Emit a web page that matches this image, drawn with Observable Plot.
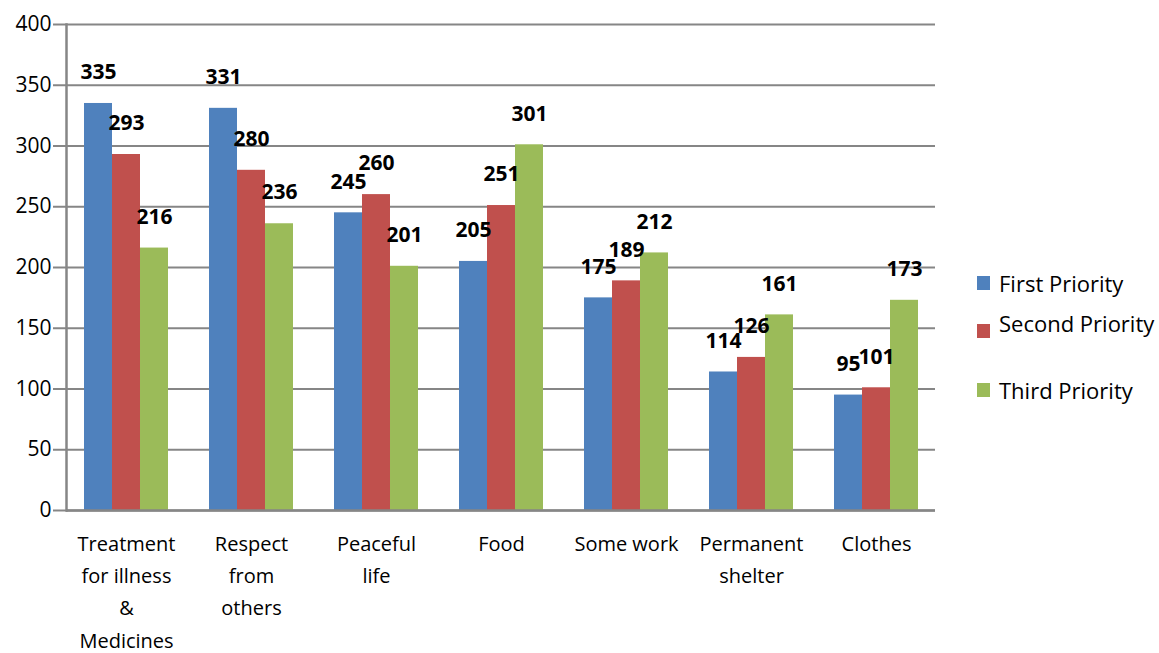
<!DOCTYPE html>
<html>
<head>
<meta charset="utf-8">
<script src="https://cdn.jsdelivr.net/npm/d3@7"></script>
<script src="https://cdn.jsdelivr.net/npm/@observablehq/plot@0.6"></script>
<style>
  html, body { margin: 0; padding: 0; background: #fff; }
  #wrap { position: relative; width: 1159px; height: 653px; font-family: "Open Sans", sans-serif; }
  #wrap svg { display: block; position: absolute; left: 0; top: 0; }
  .leg { position: absolute; left: 977px; display: flex; align-items: center; font-size: 22px; color: #000; white-space: nowrap; }
  .sw { width: 13px; height: 14px; margin-right: 9px; }
</style>
</head>
<body>
<div id="wrap">
  <div id="legend"></div>
</div>
<script>
const categories = [
  "Treatment\nfor illness\n&\nMedicines",
  "Respect\nfrom\nothers",
  "Peaceful\nlife",
  "Food",
  "Some work",
  "Permanent\nshelter",
  "Clothes"
];
const series = ["First Priority", "Second Priority", "Third Priority"];
const firstPriority  = [335, 331, 245, 205, 175, 114, 95];
const secondPriority = [293, 280, 260, 251, 189, 126, 101];
const thirdPriority  = [216, 236, 201, 301, 212, 161, 173];
const seriesColors = ["#4F81BD", "#C0504D", "#9BBB59"];
const yTicks = [0, 50, 100, 150, 200, 250, 300, 350, 400];

const valuesBySeries = [firstPriority, secondPriority, thirdPriority];
const data = categories.flatMap((c, i) =>
  series.map((s, j) => ({category: c, series: s, value: valuesBySeries[j][i]}))
);

const gridColor = "#868686";
const common = {
  width: 1159,
  height: 653,
  marginLeft: 66,
  marginRight: 224,
  marginTop: 24,
  marginBottom: 143,
  style: {fontFamily: "'Open Sans', sans-serif", background: "transparent"}
};

// background layer: gridlines and value axis
const back = Plot.plot({
  ...common,
  y: {domain: [0, 400], label: null},
  marks: [
    Plot.ruleY(yTicks, {stroke: gridColor, strokeWidth: 2}),
    Plot.frame({anchor: "left", stroke: gridColor, strokeWidth: 2.5}),
    Plot.axisY({ticks: yTicks, tickSize: 13, tickPadding: 2, fontSize: 21, stroke: gridColor, strokeWidth: 2, color: "#000", label: null})
  ]
});

// foreground layer: grouped bars, labels, category axis
const front = Plot.plot({
  ...common,
  fx: {domain: categories, paddingInner: 0.33, paddingOuter: 0.14, label: null},
  x: {domain: series, padding: 0, axis: null},
  y: {domain: [0, 400], axis: null},
  color: {domain: series, range: seriesColors},
  marks: [
    Plot.axisFx({anchor: "bottom", tickSize: 0, tickPadding: 17, fontSize: 20, lineHeight: 1.62, color: "#000", label: null}),
    Plot.barY(data, {fx: "category", x: "series", y: "value", fill: "series"}),
    Plot.text(data, {fx: "category", x: "series", y: "value", text: d => String(d.value), dy: -31, fontSize: 21, fontWeight: "bold", fill: "#000", lineAnchor: "middle", style: "letter-spacing:-0.5px"})
  ]
});

// baseline on top
const base = Plot.plot({
  ...common,
  y: {domain: [0, 400], axis: null},
  marks: [Plot.ruleY([0], {stroke: gridColor, strokeWidth: 2.5})]
});

const wrap = document.getElementById("wrap");
wrap.insertBefore(base, wrap.firstChild);
wrap.insertBefore(front, base);
wrap.insertBefore(back, front);

// legend
const legendTops = [283, 323, 390];
const swatchOffsets = [0, 8, 0];
const legend = document.getElementById("legend");
series.forEach((s, j) => {
  const item = document.createElement("div");
  item.className = "leg";
  item.style.top = (legendTops[j] - 15) + "px";
  item.style.height = "30px";
  const sw = document.createElement("div");
  sw.className = "sw";
  sw.style.background = seriesColors[j];
  sw.style.position = "relative";
  sw.style.top = swatchOffsets[j] + "px";
  const t = document.createElement("span");
  t.textContent = s;
  item.appendChild(sw);
  item.appendChild(t);
  legend.appendChild(item);
});
</script>
</body>
</html>
